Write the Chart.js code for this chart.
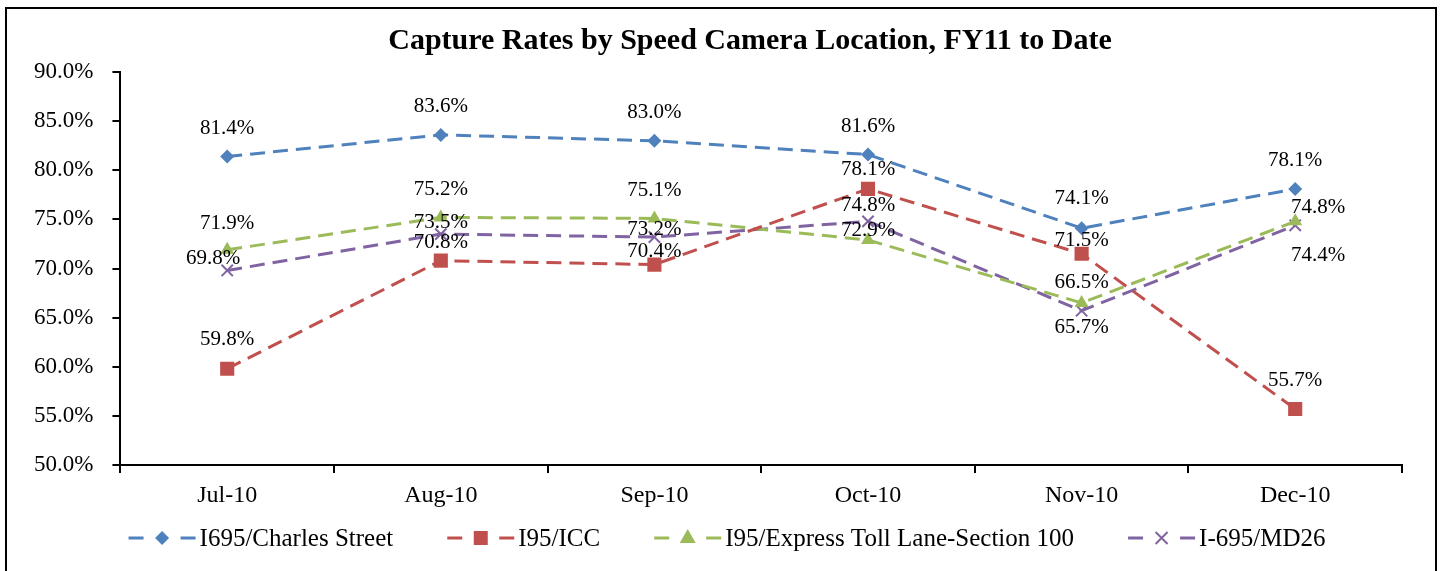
<!DOCTYPE html>
<html>
<head>
<meta charset="utf-8">
<script src="https://cdn.jsdelivr.net/npm/chart.js@4.4.1/dist/chart.umd.min.js"></script>
<style>
  html, body { margin: 0; padding: 0; background: #fff; }
  #wrap { position: relative; width: 1443px; height: 571px; }
</style>
</head>
<body>
<div id="wrap"><canvas id="captureChart"></canvas></div>
<script>
var months = ["Jul-10", "Aug-10", "Sep-10", "Oct-10", "Nov-10", "Dec-10"];
var charlesSt = [81.4, 83.6, 83.0, 81.6, 74.1, 78.1];
var i95Icc = [59.8, 70.8, 70.4, 78.1, 71.5, 55.7];
var i95Express = [71.9, 75.2, 75.1, 72.9, 66.5, 74.8];
var i695Md26 = [69.8, 73.5, 73.2, 74.8, 65.7, 74.4];
var seriesNames = ["I695/Charles Street", "I95/ICC", "I95/Express Toll Lane-Section 100", "I-695/MD26"];
var chartTitle = "Capture Rates by Speed Camera Location, FY11 to Date";
var yMin = 50, yMax = 90, yStep = 5;

var serif = "'Liberation Serif', 'Times New Roman', serif";

// where each value label sits relative to its marker, [dx, dy] px
var labelNudge = [
  [[0, -28], [0, -28], [0, -28], [0, -28], [0, -30], [0, -28]],
  [[0, -29], [0, -18], [0, -13], [0, -19], [0, -13], [0, -29]],
  [[0, -26], [0, -28], [0, -28], [0, -10], [0, -20], [23, -14]],
  [[-14, -12], [0, -12], [0, -8], [0, -16], [0, 17], [23, 30]]
];

function drawMarker(ctx, style, color, x, y) {
  ctx.save();
  ctx.fillStyle = color;
  ctx.strokeStyle = color;
  ctx.beginPath();
  if (style == 'rectRot') {
    ctx.moveTo(x, y - 7); ctx.lineTo(x + 7, y); ctx.lineTo(x, y + 7); ctx.lineTo(x - 7, y);
    ctx.closePath(); ctx.fill();
  } else if (style == 'rect') {
    ctx.rect(x - 7, y - 7, 14, 14); ctx.fill();
  } else if (style == 'triangle') {
    ctx.moveTo(x, y - 9); ctx.lineTo(x + 8, y + 5); ctx.lineTo(x - 8, y + 5);
    ctx.closePath(); ctx.fill();
  } else {
    ctx.lineWidth = 2;
    ctx.moveTo(x - 6, y - 6); ctx.lineTo(x + 6, y + 6);
    ctx.moveTo(x + 6, y - 6); ctx.lineTo(x - 6, y + 6);
    ctx.stroke();
  }
  ctx.restore();
}

var colors = ["#4F81BD", "#C0504D", "#9BBB59", "#8064A2"];
var styles = ["rectRot", "rect", "triangle", "crossRot"];

var valueLabels = {
  id: 'valueLabels',
  afterDatasetsDraw: function(chart) {
    var ctx = chart.ctx;
    ctx.save();
    ctx.font = "21px " + serif;
    ctx.fillStyle = "#000";
    ctx.textAlign = "center";
    ctx.textBaseline = "middle";
    chart.data.datasets.forEach(function(ds, i) {
      var meta = chart.getDatasetMeta(i);
      meta.data.forEach(function(pt, j) {
        var n = labelNudge[i][j];
        ctx.fillText(ds.data[j].toFixed(1) + "%", pt.x + n[0], pt.y + n[1]);
      });
    });
    ctx.restore();
  }
};

// title, legend and outer frame
var frameAndLegend = {
  id: 'frameAndLegend',
  afterDraw: function(chart) {
    var ctx = chart.ctx;
    ctx.save();
    ctx.strokeStyle = "#000";
    ctx.lineWidth = 2;
    ctx.strokeRect(6, 8, 1430, 570);

    ctx.fillStyle = "#000";
    ctx.textAlign = "center";
    ctx.textBaseline = "middle";
    ctx.font = "bold 30px " + serif;
    ctx.fillText(chartTitle, 750, 41);

    ctx.textAlign = "left";
    ctx.font = "25px " + serif;
    var iconW = 67, textGap = 4, itemGap = 54;
    var total = 0;
    var widths = seriesNames.map(function(s) { return ctx.measureText(s).width; });
    widths.forEach(function(w) { total += iconW + textGap + w; });
    total += itemGap * (seriesNames.length - 1);
    var x = 727 - total / 2, y = 538;
    seriesNames.forEach(function(s, i) {
      ctx.strokeStyle = colors[i];
      ctx.lineWidth = 3;
      ctx.beginPath();
      ctx.moveTo(x, y); ctx.lineTo(x + 15, y);
      ctx.moveTo(x + iconW - 15, y); ctx.lineTo(x + iconW, y);
      ctx.stroke();
      drawMarker(ctx, styles[i], colors[i], x + iconW / 2, y);
      ctx.fillStyle = "#000";
      ctx.fillText(s, x + iconW + textGap, y + 1);
      x += iconW + textGap + widths[i] + itemGap;
    });
    ctx.restore();
  }
};

function makeSeries(i, values) {
  return {
    label: seriesNames[i],
    data: values,
    borderColor: colors[i],
    backgroundColor: colors[i],
    borderWidth: 3,
    borderDash: [15, 8],
    pointStyle: styles[i],
    pointRadius: styles[i] == 'rect' ? 10 : (styles[i] == 'crossRot' ? 8 : (styles[i] == 'triangle' ? 8 : 7)),
    pointBorderWidth: styles[i] == 'crossRot' ? 2 : 0,
    pointBorderColor: colors[i],
    tension: 0,
    fill: false
  };
}

var ctx = document.getElementById('captureChart');
new Chart(ctx, {
  type: 'line',
  data: {
    labels: months,
    datasets: [makeSeries(0, charlesSt), makeSeries(1, i95Icc), makeSeries(2, i95Express), makeSeries(3, i695Md26)]
  },
  options: {
    responsive: true,
    maintainAspectRatio: false,
    animation: false,
    layout: { padding: { left: 15, right: 41, top: 72, bottom: 64 } },
    plugins: {
      legend: { display: false },
      tooltip: { enabled: false },
      title: { display: false }
    },
    scales: {
      x: {
        offset: true,
        afterFit: function(s) { s.height = 42; },
        grid: { offset: true, drawOnChartArea: false, tickLength: 8, color: "#000", lineWidth: 2 },
        border: { color: "#000", width: 2 },
        ticks: { color: "#000", font: { family: serif, size: 24 }, padding: 8, maxRotation: 0 }
      },
      y: {
        min: yMin,
        max: yMax,
        grid: { drawOnChartArea: false, tickLength: 8, color: "#000", lineWidth: 2 },
        border: { color: "#000", width: 2 },
        ticks: {
          stepSize: yStep,
          color: "#000",
          padding: 19,
          font: { family: serif, size: 23 },
          callback: function(v) { return v.toFixed(1) + "%"; }
        }
      }
    }
  },
  plugins: [valueLabels, frameAndLegend]
});
</script>
</body>
</html>
